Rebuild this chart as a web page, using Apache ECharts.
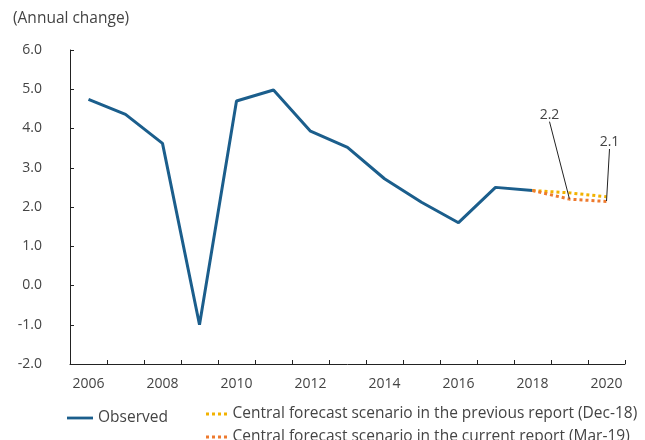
<!DOCTYPE html>
<html><head><meta charset="utf-8">
<script src="https://cdn.jsdelivr.net/npm/echarts@6/dist/echarts.min.js"></script>
<style>html,body{margin:0;padding:0;background:#fff}#c{width:645px;height:440px}</style>
</head><body><div id="c"></div>
<script>
const years = ['2006','2007','2008','2009','2010','2011','2012','2013','2014','2015','2016','2017','2018','2019','2020'];
const observed = [4.74, 4.36, 3.62, -1.0, 4.7, 4.98, 3.93, 3.52, 2.72, 2.12, 1.6, 2.5, 2.42, null, null];
const previousForecast = [null, null, null, null, null, null, null, null, null, null, null, null, 2.42, 2.36, 2.26];
const currentForecast = [null, null, null, null, null, null, null, null, null, null, null, null, 2.42, 2.2, 2.14];
const currentLabels = [null, null, null, null, null, null, null, null, null, null, null, null, null, '2.2', '2.1'];
const yTicks = {min: -2, max: 6, interval: 1};
const FONT = 'Open Sans';
const NAMES = ['Observed', 'Central forecast scenario in the previous report (Dec-18)', 'Central forecast scenario in the current report (Mar-19)'];
const solidIcon = 'path://M0,0h28v3h-28z';
const dotIcon = 'path://M0,0h3v3h-3zM6,0h3v3h-3zM12,0h3v3h-3zM18,0h3v3h-3z';
const legendText = {fontFamily: FONT, fontSize: 15.5, color: '#444'};
const chart = echarts.init(document.getElementById('c'));
chart.setOption({
  animation: false,
  textStyle: {fontFamily: FONT},
  title: {text: '(Annual change)', left: 8, top: 6, textStyle: {fontFamily: FONT, fontSize: 15.5, fontWeight: 'normal', color: '#444'}},
  grid: {left: 70, right: 20, top: 50, bottom: 76},
  legend: [
    {data: [{name: NAMES[0], icon: solidIcon}], left: 62, top: 405, itemWidth: 26, itemHeight: 3, itemGap: 4, textStyle: legendText},
    {data: [{name: NAMES[1], icon: dotIcon}], left: 201, top: 401, itemWidth: 22, itemHeight: 3, itemGap: 4, textStyle: legendText},
    {data: [{name: NAMES[2], icon: dotIcon}], left: 201, top: 424, itemWidth: 22, itemHeight: 3, itemGap: 4, textStyle: legendText}
  ],
  xAxis: [
    {type: 'category', data: years, boundaryGap: true, position: 'bottom',
     axisLine: {show: false}, axisTick: {show: false},
     axisLabel: {interval: 1, color: '#444', fontSize: 14, margin: 13, fontFamily: FONT}},
    {type: 'category', data: years, boundaryGap: true, position: 'bottom',
     axisLine: {show: true, onZero: true, lineStyle: {color: '#222', width: 1}},
     axisTick: {show: true, inside: true, interval: 0, length: 4, lineStyle: {color: '#222'}},
     axisLabel: {show: false}}
  ],
  yAxis: {type: 'value', min: yTicks.min, max: yTicks.max, interval: yTicks.interval,
    axisLine: {show: true, lineStyle: {color: '#222'}},
    axisTick: {show: true, inside: true, length: 4, lineStyle: {color: '#222'}},
    splitLine: {show: false},
    axisLabel: {formatter: v => v.toFixed(1), color: '#444', fontSize: 14, margin: 28, fontFamily: FONT}},
  series: [
    {name: NAMES[0], type: 'line', data: observed, symbol: 'none', color: '#1b5e8c',
     lineStyle: {color: '#1b5e8c', width: 3}},
    {name: NAMES[1], type: 'line', data: previousForecast, symbol: 'none', color: '#f2b200',
     lineStyle: {color: '#f2b200', width: 3, type: [3, 3]}},
    {name: NAMES[2], type: 'line', color: '#ee7a2e',
     data: currentForecast.map((v, i) => currentLabels[i]
       ? {value: v, symbol: 'circle', symbolSize: 1, itemStyle: {color: 'rgba(0,0,0,0)', borderWidth: 0},
          label: {show: true, color: '#444', opacity: 1}}
       : {value: v, symbol: 'none'}),
     showAllSymbol: true,
     lineStyle: {color: '#ee7a2e', width: 3, type: [3, 3]},
     label: {show: false, position: 'top', formatter: p => currentLabels[p.dataIndex] || '', fontSize: 14, color: '#444', fontFamily: FONT},
     labelLine: {show: true, lineStyle: {color: '#222', width: 1}},
     labelLayout: p => {
       if (p.dataIndex === 13) return {dx: -20, dy: -72};
       if (p.dataIndex === 14) return {dx: 3, dy: -47};
       return {};
     }}
  ]
});
</script></body></html>
